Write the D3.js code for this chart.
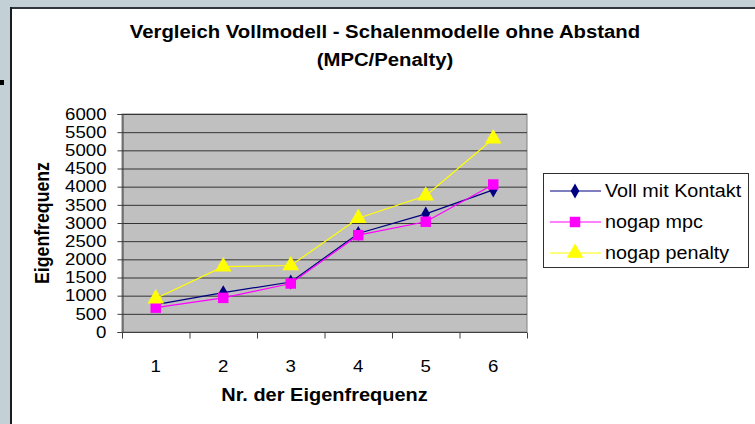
<!DOCTYPE html>
<html>
<head>
<meta charset="utf-8">
<script src="https://cdn.jsdelivr.net/npm/d3@7"></script>
<style>
  html, body { margin: 0; padding: 0; background: #c3d1d7; }
  svg { display: block; font-family: "Liberation Sans", Arial, sans-serif; }
</style>
</head>
<body>
<svg id="chart" width="755" height="424"></svg>
<script>
// Vergleich Vollmodell - Schalenmodelle (line chart, Excel style)
const categories = ['1', '2', '3', '4', '5', '6'];
const vollMitKontakt = [755, 1085, 1375, 2710, 3250, 3910];
const nogapMpc = [670, 940, 1335, 2665, 3035, 4060];
const nogapPenalty = [920, 1800, 1830, 3130, 3750, 5320];
const yTicks = [0, 500, 1000, 1500, 2000, 2500, 3000, 3500, 4000, 4500, 5000, 5500, 6000];

const series = [
	{ name: 'Voll mit Kontakt', values: vollMitKontakt, color: '#000080', marker: 'diamond' },
	{ name: 'nogap mpc', values: nogapMpc, color: '#ff00ff', marker: 'square' },
	{ name: 'nogap penalty', values: nogapPenalty, color: '#ffff00', marker: 'triangle' },
];

// the source picture is a bit wider than tall, so text is stretched sideways
const HS = 1.13;

const svg = d3.select('#chart');

// places a text at (x, y) with the horizontal stretch
function stretchedText(parent, x, y, size, str, anchor = 'start', bold = false) {
	return parent.append('text')
		.attr('transform', `translate(${x},${y}) scale(${HS},1)`)
		.attr('text-anchor', anchor)
		.attr('font-size', size)
		.attr('font-weight', bold ? 'bold' : 'normal')
		.attr('fill', '#000')
		.text(str);
}

// chart area frame
svg.append('rect').attr('x', 10).attr('y', 7).attr('width', 745).attr('height', 417).attr('fill', '#ffffff');
svg.append('line').attr('x1', 10).attr('x2', 755).attr('y1', 8).attr('y2', 8).attr('stroke', '#30363b').attr('stroke-width', 2);
svg.append('line').attr('x1', 11).attr('x2', 11).attr('y1', 7).attr('y2', 424).attr('stroke', '#1a1d20').attr('stroke-width', 2);
svg.append('rect').attr('x', 0).attr('y', 80).attr('width', 4).attr('height', 5).attr('fill', '#000');

const plot = { left: 122, right: 527, top: 114, bottom: 332 };

const x = d3.scaleBand().domain(categories).range([plot.left, plot.right]);
const y = d3.scaleLinear().domain([0, 6000]).range([plot.bottom, plot.top]);

// plot background
svg.append('rect')
	.attr('x', plot.left).attr('y', plot.top)
	.attr('width', plot.right - plot.left).attr('height', plot.bottom - plot.top)
	.attr('fill', '#c0c0c0').attr('stroke', '#808080');

// gridlines
svg.append('g')
	.selectAll('line')
	.data(yTicks.filter((d) => d > 0))
	.join('line')
	.attr('x1', plot.left).attr('x2', plot.right)
	.attr('y1', (d) => y(d) + 0.5).attr('y2', (d) => y(d) + 0.5)
	.attr('stroke', '#333333');

// y axis
const yAxis = svg.append('g')
	.attr('transform', `translate(${plot.left + 0.5},0)`)
	.call(d3.axisLeft(y).tickValues(yTicks).tickSize(5).tickPadding(0).tickFormat(d3.format('d')));
yAxis.select('.domain').attr('stroke', '#404040');
yAxis.selectAll('.tick line').attr('stroke', '#404040');
yAxis.selectAll('.tick text')
	.attr('x', null)
	.attr('transform', `translate(-16,0) scale(${HS},1)`)
	.attr('font-size', 16.5).attr('fill', '#000').attr('font-family', '"Liberation Sans", Arial');

// x axis: tick marks on category boundaries
const xAxis = svg.append('g').attr('transform', `translate(0,${plot.bottom + 0.5})`);
xAxis.append('line').attr('x1', plot.left).attr('x2', plot.right).attr('stroke', '#404040');
xAxis.selectAll('line.tk')
	.data(categories.map((c) => x(c)).concat([plot.right]))
	.join('line')
	.attr('class', 'tk')
	.attr('x1', (d) => d + 0.5).attr('x2', (d) => d + 0.5)
	.attr('y1', 0).attr('y2', 6)
	.attr('stroke', '#404040');
categories.forEach((c) => {
	stretchedText(xAxis, x(c) + x.bandwidth() / 2, 39, 16.5, c, 'middle');
});

// axis titles
stretchedText(svg, (plot.left + plot.right) / 2, 401, 17.7, 'Nr. der Eigenfrequenz', 'middle', true);
svg.append('text')
	.attr('transform', 'translate(49,223) rotate(-90) scale(1,' + HS + ')')
	.attr('text-anchor', 'middle').attr('font-weight', 'bold').attr('font-size', 17.7)
	.text('Eigenfrequenz');

// title
stretchedText(svg, 385, 38, 18, 'Vergleich Vollmodell - Schalenmodelle ohne Abstand', 'middle', true);
stretchedText(svg, 385, 66, 18, '(MPC/Penalty)', 'middle', true);

const symbols = {
	diamond: d3.symbol().type(d3.symbolDiamond).size(64),
	square: d3.symbol().type(d3.symbolSquare).size(110),
	triangle: d3.symbol().type(d3.symbolTriangle).size(120),
};

const line = d3.line()
	.x((d, i) => x(categories[i]) + x.bandwidth() / 2)
	.y((d) => y(d));

series.forEach((s) => {
	svg.append('path')
		.attr('d', line(s.values))
		.attr('fill', 'none')
		.attr('stroke', s.color)
		.attr('stroke-width', 1.2);
	svg.append('g')
		.selectAll('path')
		.data(s.values)
		.join('path')
		.attr('transform', (d, i) => `translate(${x(categories[i]) + x.bandwidth() / 2},${y(d)})`)
		.attr('d', symbols[s.marker]())
		.attr('fill', s.color);
});

// legend
const legend = svg.append('g');
legend.append('rect')
	.attr('x', 543.5).attr('y', 173.5).attr('width', 205).attr('height', 94)
	.attr('fill', '#fff').attr('stroke', '#303030');
series.forEach((s, i) => {
	const ly = 191 + i * 31;
	legend.append('line').attr('x1', 550).attr('x2', 601).attr('y1', ly).attr('y2', ly).attr('stroke', s.color).attr('stroke-width', 1.2);
	legend.append('path').attr('transform', `translate(575,${ly})`).attr('d', symbols[s.marker]()).attr('fill', s.color);
	stretchedText(legend, 605, ly + 6, 17.5, s.name);
});
</script>
</body>
</html>
